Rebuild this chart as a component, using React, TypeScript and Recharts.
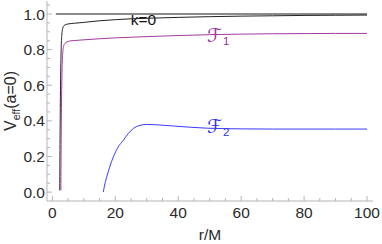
import React from "react"
import { LineChart, Line, XAxis, YAxis, Customized } from "recharts"

if (typeof document !== "undefined") document.body.style.margin = "0"

// tick values (major ones get labels)
const xTicks = [0, 5, 10, 15, 20, 25, 30, 35, 40, 45, 50, 55, 60, 65, 70, 75, 80, 85, 90, 95, 100]
const xMajor = [0, 20, 40, 60, 80, 100]
const yTicks = [0, 0.05, 0.1, 0.15, 0.2, 0.25, 0.3, 0.35, 0.4, 0.45, 0.5, 0.55, 0.6, 0.65, 0.7, 0.75, 0.8, 0.85, 0.9, 0.95, 1.0, 1.05]
const yMajor = [0, 0.2, 0.4, 0.6, 0.8, 1.0]

// flat k=0 reference
const flatR = [1.1, 100]
const flatV = [1, 1]

// k=0 curve
const k0R = [2.35, 2.45, 2.6, 2.8, 3.0, 3.3, 3.7, 4.2, 5, 7, 10, 15, 20, 25, 30, 40, 50, 60, 70, 80, 90, 100]
const k0V = [0.01, 0.3, 0.6, 0.8, 0.88, 0.92, 0.935, 0.94, 0.944, 0.948, 0.953, 0.962, 0.968, 0.973, 0.976, 0.981, 0.985, 0.988, 0.99, 0.992, 0.993, 0.994]

// F1
const f1R = [2.7, 2.8, 2.95, 3.1, 3.3, 3.6, 4.0, 4.6, 5.5, 7, 10, 15, 20, 30, 40, 50, 60, 70, 80, 90, 100]
const f1V = [0.01, 0.3, 0.55, 0.7, 0.78, 0.82, 0.835, 0.843, 0.848, 0.851, 0.855, 0.861, 0.866, 0.873, 0.879, 0.884, 0.887, 0.889, 0.89, 0.891, 0.891]

// F2
const f2R = [16.2, 16.5, 16.9, 17.3, 18.2, 19.4, 20.8, 22.6, 24.2, 25.8, 27.5, 30, 33, 38.5, 44, 49, 55, 60, 70, 80, 90, 100]
const f2V = [0.0, 0.03, 0.06, 0.086, 0.14, 0.198, 0.25, 0.292, 0.33, 0.358, 0.373, 0.38, 0.378, 0.371, 0.364, 0.359, 0.356, 0.355, 0.354, 0.354, 0.354, 0.354]

const toPts = (r: number[], v: number[]) => r.map((x, i) => ({ r: x, v: v[i] }))

const W = 382
const H = 244
const LEFT = 47
const RIGHT = 373
const TOP = 1
const BOTTOM = 201
const FRAME = "#b4b4b4"
const TXT = "#2a2a2a"
const FONT = "'Liberation Sans', Arial, sans-serif"

const isMajor = (list: number[], v: number) => list.some(m => Math.abs(m - v) < 1e-6)

const BottomTick = (p: any) => {
  const major = isMajor(xMajor, p.payload.value)
  return (
    <g>
      <line x1={p.x} x2={p.x} y1={BOTTOM} y2={BOTTOM - (major ? 5 : 3)} stroke={FRAME} />
      {major && (
        <text x={p.x} y={218} textAnchor="middle" fontSize={15.5} fill={TXT} fontFamily={FONT}>
          {p.payload.value}
        </text>
      )}
    </g>
  )
}

const TopTick = (p: any) => {
  const major = isMajor(xMajor, p.payload.value)
  return <line x1={p.x} x2={p.x} y1={TOP} y2={TOP + (major ? 5 : 3)} stroke={FRAME} />
}

const LeftTick = (p: any) => {
  const major = isMajor(yMajor, p.payload.value)
  return (
    <g>
      <line x1={LEFT} x2={LEFT + (major ? 5 : 3)} y1={p.y} y2={p.y} stroke={FRAME} />
      {major && (
        <text x={45} y={p.y + 5.5} textAnchor="end" fontSize={15.5} fill={TXT} fontFamily={FONT}>
          {p.payload.value.toFixed(1)}
        </text>
      )}
    </g>
  )
}

const RightTick = (p: any) => {
  const major = isMajor(yMajor, p.payload.value)
  return <line x1={RIGHT} x2={RIGHT - (major ? 5 : 3)} y1={p.y} y2={p.y} stroke={FRAME} />
}

const Labels = () => (
  <g fontFamily={FONT}>
    <text x={143.5} y={25} textAnchor="middle" fontSize={15.5} fill="#111">k=0</text>
    <text x={207} y={42} fontSize={19} fill="#9a2f9a" fontFamily="'DejaVu Sans', sans-serif">
      ℱ<tspan fontSize={11.5} dx={1} dy={3} fontFamily={FONT}>1</tspan>
    </text>
    <text x={207} y={133} fontSize={19} fill="#3030f0" fontFamily="'DejaVu Sans', sans-serif">
      ℱ<tspan fontSize={11.5} dx={1} dy={3} fontFamily={FONT}>2</tspan>
    </text>
    <text x={210} y={240} textAnchor="middle" fontSize={15.5} fill={TXT}>r/M</text>
    <text x={16} y={101} textAnchor="middle" fontSize={16} fill={TXT} transform="rotate(-90 16 101)">
      V<tspan fontSize={10.5} dy={4}>eff</tspan><tspan dy={-4}>(a=0)</tspan>
    </text>
  </g>
)

export default function App() {
  return (
    <LineChart width={W} height={H} margin={{ top: TOP, right: W - RIGHT, bottom: 0, left: 0 }}>
      <XAxis xAxisId="b" dataKey="r" type="number" domain={[-1.7, 101.9]} ticks={xTicks} interval={0}
        allowDataOverflow height={H - BOTTOM} tick={<BottomTick />} tickLine={false} axisLine={{ stroke: FRAME }} />
      <XAxis xAxisId="t" orientation="top" dataKey="r" type="number" domain={[-1.7, 101.9]} ticks={xTicks} interval={0}
        allowDataOverflow height={0} tick={<TopTick />} tickLine={false} axisLine={{ stroke: FRAME }} />
      <YAxis yAxisId="l" dataKey="v" type="number" domain={[-0.05, 1.073]} ticks={yTicks} interval={0}
        allowDataOverflow width={LEFT} tick={<LeftTick />} tickLine={false} axisLine={{ stroke: FRAME }} />
      <YAxis yAxisId="rt" orientation="right" dataKey="v" type="number" domain={[-0.05, 1.073]} ticks={yTicks} interval={0}
        allowDataOverflow width={0} tick={<RightTick />} tickLine={false} axisLine={{ stroke: FRAME }} />
      <Line xAxisId="b" yAxisId="l" data={toPts(flatR, flatV)} dataKey="v" stroke="#8a8a8a" strokeWidth={1.8}
        dot={false} isAnimationActive={false} />
      <Line xAxisId="b" yAxisId="l" data={toPts(k0R, k0V)} dataKey="v" type="monotone" stroke="#222" strokeWidth={1}
        dot={false} isAnimationActive={false} />
      <Line xAxisId="b" yAxisId="l" data={toPts(f1R, f1V)} dataKey="v" type="monotone" stroke="#a03aa0" strokeWidth={1}
        dot={false} isAnimationActive={false} />
      <Line xAxisId="b" yAxisId="l" data={toPts(f2R, f2V)} dataKey="v" type="monotone" stroke="#3a3aff" strokeWidth={1}
        dot={false} isAnimationActive={false} />
      <Customized component={Labels} />
    </LineChart>
  )
}
